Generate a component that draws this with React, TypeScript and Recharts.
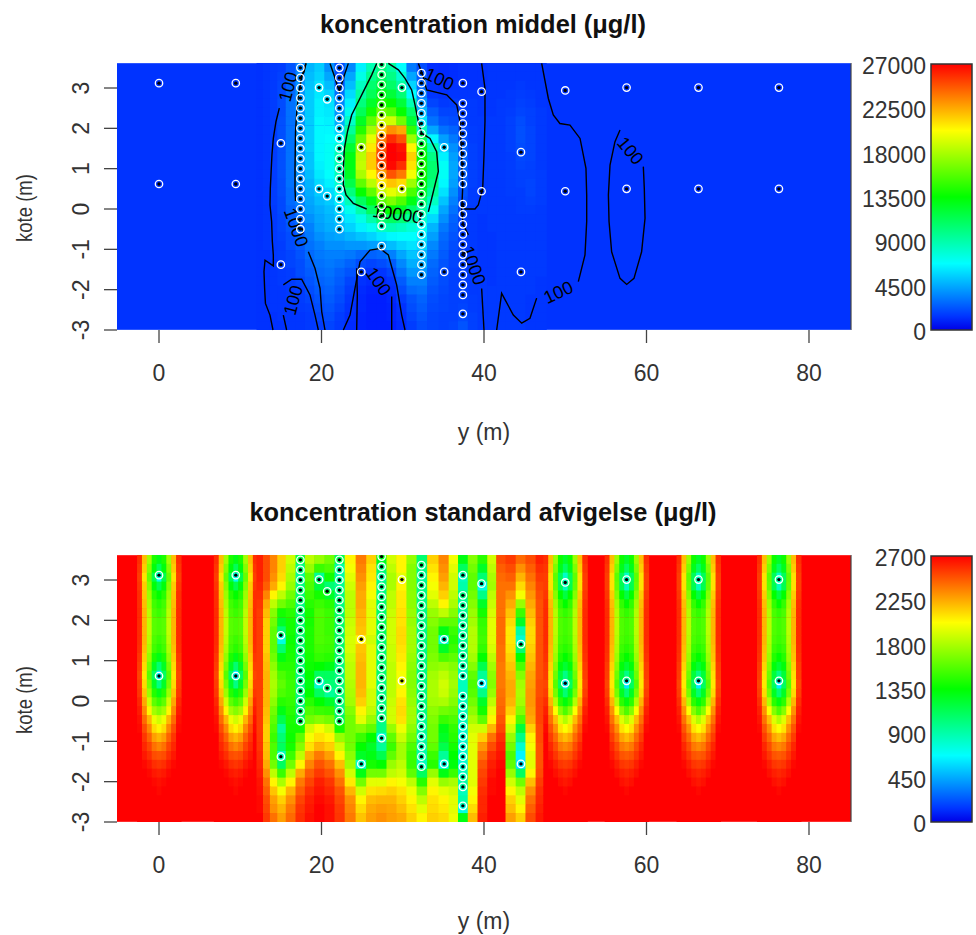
import { BarChart, Bar, XAxis, YAxis, ScatterChart, Scatter, ReferenceArea, ReferenceLine } from "recharts"

const X_DOMAIN = [-5.17, 85.17]
const Y_DOMAIN = [-3, 3.62]
const xTicks = [0, 20, 40, 60, 80]
const yTicks = [-3, -2, -1, 0, 1, 2, 3]
const meanLegendTicks = [0, 4500, 9000, 13500, 18000, 22500, 27000]
const stdLegendTicks = [0, 450, 900, 1350, 1800, 2250, 2700]

const rowYs = [3.51, 3.29, 3.07, 2.85, 2.63, 2.41, 2.19, 1.96, 1.74, 1.52, 1.3, 1.08, 0.86, 0.64, 0.42, 0.2, -0.02, -0.24, -0.46, -0.68, -0.9, -1.13, -1.35, -1.57, -1.79, -2.01, -2.23, -2.45, -2.67, -2.89]
const middleXs = [12.4, 13.2, 14.1, 15, 16.2, 17.4, 18.5, 19.7, 21, 22.2, 23.5, 24.9, 26.1, 27.4, 28.6, 29.8, 31.1, 32.3, 33.7, 35.1, 36.2, 37.4, 38.6, 39.8, 41, 42, 43.3, 44.5, 45.7, 47]

// mean concentration, in hundreds of ug/l
const meanRows = [
  [13,14,15,16,22,34,48,54,38,20,36,64,88,102,92,68,32,20,12,11,12,13,13,13,14,14,14,14,14,14],
  [13,14,15,17,24,36,50,56,44,20,44,74,98,110,100,80,44,24,12,11,12,13,13,13,14,14,14,14,14,14],
  [13,14,15,18,26,38,52,60,50,22,50,84,106,118,108,92,56,28,13,12,13,13,13,13,14,14,14,15,14,14],
  [13,14,16,19,28,40,54,62,56,30,58,92,112,128,120,104,68,32,14,13,14,14,14,14,14,14,15,16,15,14],
  [13,14,16,20,30,40,54,64,60,36,64,102,124,142,136,120,88,40,18,15,16,15,15,14,14,15,15,17,16,14],
  [13,14,16,20,30,40,54,64,62,40,72,112,140,164,158,136,108,48,24,18,18,16,15,14,14,15,16,18,17,15],
  [13,14,16,21,30,40,54,66,64,46,82,126,160,190,190,165,122,60,30,22,20,17,15,15,15,15,17,20,17,15],
  [13,14,16,21,30,40,54,66,66,56,94,144,178,216,232,225,148,86,44,30,26,19,16,15,15,15,17,21,18,15],
  [13,14,16,21,30,40,54,66,68,68,108,162,196,238,258,248,176,110,66,42,32,21,16,15,15,15,17,21,18,15],
  [13,14,16,21,30,40,54,66,70,80,122,178,208,248,270,265,205,128,88,56,38,24,17,15,15,15,17,20,18,15],
  [13,14,16,21,30,40,52,66,70,88,130,184,216,252,270,268,215,136,100,64,42,26,17,15,15,15,16,19,18,15],
  [13,14,16,21,30,40,52,64,70,88,130,186,216,245,268,258,210,140,106,70,44,26,17,15,15,15,16,18,17,15],
  [13,14,16,21,30,38,50,62,68,86,126,180,204,228,248,238,200,138,106,70,44,25,17,15,15,15,16,17,17,16],
  [13,14,16,20,30,38,48,58,64,80,116,160,184,208,218,212,176,132,102,66,42,24,17,15,15,15,16,17,18,16],
  [13,14,16,20,28,36,46,54,58,72,102,136,160,188,196,188,154,122,94,60,38,22,16,15,15,15,16,16,18,16],
  [13,14,16,19,28,34,44,50,54,64,86,110,130,158,168,156,130,106,84,52,34,20,16,15,15,15,15,16,17,16],
  [13,14,15,19,26,32,42,46,50,58,72,90,110,130,136,126,108,92,72,44,30,18,15,15,15,15,15,16,16,15],
  [13,14,15,18,24,30,38,44,48,54,62,74,90,106,110,104,92,80,58,38,26,17,15,14,15,15,15,15,15,15],
  [13,14,15,18,22,28,34,42,46,50,56,64,72,84,88,84,78,70,48,32,24,16,15,14,15,15,15,15,15,15],
  [13,14,15,17,20,26,32,38,42,44,48,52,56,62,66,68,68,62,42,28,22,16,15,14,14,15,15,15,15,15],
  [13,14,15,16,20,24,30,34,38,38,40,40,42,44,50,56,60,56,36,26,20,16,15,14,14,15,15,15,15,15],
  [13,13,15,16,18,22,28,32,34,34,32,28,26,28,34,44,52,50,32,24,18,16,15,14,14,15,15,15,15,15],
  [13,13,14,16,18,20,26,30,32,30,26,20,18,20,24,36,46,46,28,22,18,16,15,14,14,15,15,15,15,15],
  [13,13,14,15,16,20,24,28,30,26,22,16,14,14,18,30,40,40,26,20,17,16,15,14,14,15,15,15,15,15],
  [13,13,14,15,16,18,22,26,28,24,18,13,11,11,14,24,34,34,24,20,17,16,15,15,14,15,15,15,15,14],
  [13,13,14,14,15,16,20,24,26,22,16,11,9,9,12,20,28,30,22,19,17,17,15,15,15,15,15,15,15,14],
  [13,13,14,14,15,16,18,22,24,20,14,10,8,8,10,16,22,26,20,18,17,17,16,15,15,15,15,15,14,14],
  [13,13,14,14,14,15,16,20,22,18,13,10,8,8,9,13,20,24,19,18,17,18,16,15,15,15,15,15,14,14],
  [13,13,13,14,14,14,15,18,20,16,12,9,8,8,9,12,18,22,18,17,17,19,17,15,15,15,15,15,14,14],
  [13,13,13,13,14,14,15,16,18,15,11,9,8,8,8,11,16,20,18,17,18,22,17,15,15,15,15,15,14,14],
]

// standard deviation, in tens of ug/l
const stdMiddleRows = [
  [262,250,235,215,190,115,185,175,165,110,205,238,215,125,190,205,175,105,215,235,200,130,170,145,190,250,255,242,250,262],
  [262,250,235,215,185,100,175,150,155,90,200,235,210,105,185,205,170,100,210,232,195,110,165,125,185,245,250,232,245,258],
  [262,250,232,212,180,95,160,95,140,90,195,232,208,95,180,195,170,95,205,228,190,85,160,105,180,242,245,222,240,255],
  [260,245,225,205,175,100,155,120,105,95,190,228,205,100,180,205,170,100,200,222,190,90,160,75,178,240,240,212,235,252],
  [258,235,205,185,165,105,150,140,125,100,185,225,200,100,185,208,172,100,195,215,185,100,165,100,185,240,232,200,230,250],
  [256,225,185,165,155,100,145,150,145,100,185,225,195,105,185,208,172,100,185,205,180,95,170,125,188,240,225,175,225,248],
  [254,220,170,140,145,105,140,155,150,105,185,222,195,105,188,210,175,100,175,185,170,95,175,140,192,240,218,150,220,248],
  [254,215,165,125,140,105,140,155,150,105,188,220,195,110,190,210,175,100,170,160,160,95,178,148,195,242,212,125,215,248],
  [254,215,160,105,140,105,142,155,150,105,190,218,195,110,190,212,178,100,165,130,150,95,182,150,195,242,208,90,212,248],
  [254,215,160,75,138,105,142,155,152,105,192,205,190,105,190,212,178,100,165,80,145,95,182,152,195,242,208,80,212,248],
  [254,215,160,105,140,105,142,152,150,105,192,218,195,105,188,210,178,100,165,125,150,95,182,148,192,240,210,105,215,248],
  [254,218,165,130,142,105,140,148,145,105,188,220,195,105,188,208,175,100,168,155,160,95,178,135,185,240,214,135,218,248],
  [254,220,172,145,145,105,138,135,130,100,185,222,195,105,185,205,172,100,172,175,170,90,170,115,178,238,218,155,222,248],
  [254,222,178,155,148,100,135,110,110,100,185,222,195,105,185,200,170,100,178,185,175,85,160,95,172,238,222,170,226,248],
  [254,222,180,160,150,100,130,80,105,100,182,222,195,100,185,198,170,100,180,190,178,85,155,65,170,238,225,178,228,250],
  [254,222,178,155,150,100,135,110,95,100,180,220,190,100,185,205,172,100,180,188,175,85,158,100,175,240,225,180,230,250],
  [254,222,172,145,148,100,145,135,125,100,178,215,190,100,188,210,175,100,178,180,170,85,165,125,185,242,222,178,230,252],
  [254,220,165,130,145,105,155,150,148,100,170,205,185,100,190,212,178,100,172,165,162,85,172,140,195,244,215,170,228,252],
  [254,218,160,115,142,110,165,170,165,110,165,195,175,100,190,210,178,95,168,150,155,85,180,160,205,248,205,155,225,252],
  [254,215,155,95,140,140,190,200,190,140,165,170,160,100,175,198,172,95,165,130,148,80,190,190,222,252,190,120,215,250],
  [255,215,150,105,138,160,200,210,205,175,165,150,135,80,160,188,165,90,165,125,145,80,195,215,240,258,175,100,205,250],
  [256,218,155,110,140,170,210,222,215,190,165,135,125,95,150,178,155,90,160,115,140,80,195,230,250,262,165,80,200,248],
  [258,220,155,85,150,185,225,238,228,205,172,125,130,115,160,178,150,90,150,95,135,80,195,240,258,265,155,65,195,248],
  [260,225,165,110,165,205,235,248,240,220,178,80,140,135,175,185,150,85,145,75,132,80,195,248,262,268,160,60,195,248],
  [262,232,185,150,185,225,245,255,248,232,190,130,165,165,185,190,160,110,175,130,150,85,195,252,265,270,175,110,205,250],
  [265,240,205,180,205,238,252,262,256,240,208,165,195,195,205,200,185,145,195,175,180,90,195,255,268,270,190,165,220,254],
  [266,245,218,200,222,245,258,265,260,248,222,190,210,212,215,210,198,170,205,195,190,85,200,258,268,270,205,185,232,258],
  [268,250,228,215,232,252,262,268,264,252,232,205,220,222,222,215,205,185,210,205,195,90,205,260,270,270,215,195,240,260],
  [268,252,232,222,238,256,264,270,266,255,235,212,225,228,226,220,210,195,212,208,195,75,212,260,270,270,220,205,245,262],
  [270,255,240,228,242,258,266,270,266,256,238,218,228,232,228,225,215,205,215,212,198,130,220,262,270,270,228,215,250,264],
]

// the narrow stripes left of 12 m share one profile, the ones right of 48 m another
const stdStripeLeftRows = [
  [258,220,178,142,130,142,178,220,258],
  [256,216,170,132,112,132,170,216,256],
  [254,210,162,115,72,115,162,210,254],
  [256,216,170,132,115,132,170,216,256],
  [258,218,176,145,135,145,176,218,258],
  [258,220,180,152,145,152,180,220,258],
  [259,222,184,155,150,155,184,222,259],
  [259,222,186,158,155,158,186,222,259],
  [259,222,186,158,155,158,186,222,259],
  [259,222,184,155,150,155,184,222,259],
  [258,220,180,152,145,152,180,220,258],
  [256,216,174,142,130,142,174,216,256],
  [254,212,166,126,105,126,166,212,254],
  [252,208,158,110,62,110,158,208,252],
  [254,212,166,125,100,125,166,212,254],
  [256,218,176,144,130,144,176,218,256],
  [260,226,190,160,150,160,190,226,260],
  [263,234,205,178,170,178,205,234,263],
  [266,242,222,198,190,198,222,242,266],
  [268,250,234,212,205,212,234,250,268],
  [270,256,244,228,222,228,244,256,270],
  [270,260,252,240,235,240,252,260,270],
  [270,264,258,250,248,250,258,264,270],
  [270,268,264,258,256,258,264,268,270],
  [270,270,268,264,262,264,268,270,270],
  [270,270,270,268,266,268,270,270,270],
  [270,270,270,270,268,270,270,270,270],
  [270,270,270,270,270,270,270,270,270],
  [270,270,270,270,270,270,270,270,270],
  [270,270,270,270,270,270,270,270,270],
]
const stdStripeRightRows = [
  [258,220,176,138,125,138,176,220,258],
  [256,216,168,128,110,128,168,216,256],
  [254,210,160,112,82,112,160,210,254],
  [254,210,162,114,85,114,162,210,254],
  [256,216,170,135,118,135,170,216,256],
  [258,220,178,148,135,148,178,220,258],
  [259,222,182,154,148,154,182,222,259],
  [259,222,184,156,152,156,184,222,259],
  [259,222,184,156,152,156,184,222,259],
  [259,222,182,154,150,154,182,222,259],
  [258,220,180,150,145,150,180,220,258],
  [257,218,176,144,135,144,176,218,257],
  [255,214,170,132,122,132,170,214,255],
  [254,210,164,120,100,120,164,210,254],
  [252,208,158,110,62,110,158,208,252],
  [254,212,166,126,105,126,166,212,254],
  [258,222,182,146,132,146,182,222,258],
  [262,232,202,170,155,170,202,232,262],
  [265,240,220,194,182,194,220,240,265],
  [268,248,232,210,202,210,232,248,268],
  [270,254,242,226,220,226,242,254,270],
  [270,260,250,238,234,238,250,260,270],
  [270,264,256,248,246,248,256,264,270],
  [270,268,262,256,254,256,262,268,270],
  [270,270,266,262,260,262,266,270,270],
  [270,270,270,266,264,266,270,270,270],
  [270,270,270,270,268,270,270,270,270],
  [270,270,270,270,270,270,270,270,270],
  [270,270,270,270,270,270,270,270,270],
  [270,270,270,270,270,270,270,270,270],
]

const grid25 = [3.5, 3.25, 3, 2.75, 2.5, 2.25, 2, 1.75, 1.5, 1.25, 1, 0.75, 0.5, 0.25, 0, -0.25, -0.5]
const sampleColumns = [
  { x: 0, ys: [3.12, 0.62] },
  { x: 9.45, ys: [3.12, 0.62] },
  { x: 15, ys: [1.63, -1.38] },
  { x: 17.4, ys: grid25 },
  { x: 19.7, ys: [3.01, 0.5] },
  { x: 20.7, ys: [2.72, 0.32] },
  { x: 22.2, ys: grid25 },
  { x: 24.9, ys: [1.53, -1.56] },
  { x: 27.4, ys: [3.58, 3.33, 3.08, 2.83, 2.58, 2.33, 2.08, 1.83, 1.58, 1.33, 1.08, 0.83, 0.58, 0.33, 0.08, -0.17, -0.42, -0.92] },
  { x: 29.9, ys: [3.01, 0.5] },
  { x: 32.3, ys: [3.37, 3.12, 2.87, 2.62, 2.37, 2.12, 1.87, 1.62, 1.37, 1.12, 0.87, 0.62, 0.37, 0.12, -0.13, -0.38, -0.63, -0.88, -1.13, -1.38, -1.63] },
  { x: 35.1, ys: [1.53, -1.56] },
  { x: 37.4, ys: [3.12, 2.62, 2.37, 2.12, 1.87, 1.62, 1.37, 1.12, 0.87, 0.62, 0.12, -0.13, -0.38, -0.63, -0.88, -1.13, -1.38, -1.63, -1.88, -2.13, -2.6] },
  { x: 39.7, ys: [2.91, 0.44] },
  { x: 44.55, ys: [1.41, -1.56] },
  { x: 50, ys: [2.94, 0.44] },
  { x: 57.55, ys: [3.01, 0.5] },
  { x: 66.4, ys: [3.01, 0.5] },
  { x: 76.3, ys: [3.01, 0.5] },
]

const contourLines = [
  [[18.09,3.61],[17.85,3.4],[17.35,3.24]],
  [[14.81,2.5],[14.4,2.17],[14.07,1.75],[13.9,1.34],[13.8,0.93],[13.7,0.51],[13.66,0.1],[13.86,-0.31],[13.95,-0.81],[14.07,-1.14],[14.07,-1.41],[13.05,-1.27],[12.92,-1.55],[13,-1.97],[13.1,-2.34],[13.66,-2.63],[14.03,-3]],
  [[18.09,3.61],[17.6,3.3],[17.2,2.9],[16.95,2.4],[16.8,1.9],[16.74,1],[16.74,0.5],[16.8,0.2]],
  [[18.38,-1.06],[19.2,-1.47],[19.82,-1.97],[20.03,-2.55],[20.43,-3]],
  [[15.3,-1.88],[16.33,-1.74],[17.56,-1.74],[18.58,-2.13],[19.2,-2.63],[19.61,-3]],
  [[15.3,-2.63],[15.71,-3]],
  [[21.05,3.61],[21.54,3.32],[22.2,2.91],[22.69,3.24],[23.3,3.61]],
  [[26.79,3.61],[26.17,3.32],[25.35,2.99],[24.53,2.66],[23.71,2.33],[23.2,1.92],[22.81,1.5],[22.69,1.01],[22.69,0.6],[23.02,0.35],[23.92,0.14],[25.56,0]],
  [[33.15,-0.07],[33.56,0.26],[34.38,0.93],[34.17,1.42],[33.35,1.75],[32.33,1.88],[31.92,2.17],[31.51,2.58],[31.1,2.95],[30.28,3.24],[29.46,3.45],[28.23,3.61]],
  [[31.92,3.61],[32.5,3.3],[32.94,2.95],[35.41,2.83],[36.64,2.58],[37.05,2.17],[37.25,1.34],[37.37,0.51],[37.25,-0.07],[37.46,-0.4],[38.07,-0.64]],
  [[39.71,-1.97],[40,-3]],
  [[22.69,-3],[23.51,-2.63],[24.12,-1.97],[24.74,-1.31],[25.97,-1.02],[27.2,-0.98],[28.23,-1.14],[29.25,-1.88],[29.87,-2.63],[30.28,-3]],
  [[24.33,-1.47],[24.41,-2.13],[24.33,-3]],
  [[28.64,-2.17],[28.64,-3]],
  [[39.71,3.61],[40.12,2.99],[40.12,2.17],[40,1.34],[39.84,0.51],[39.3,0.1],[38.89,0],[37.66,0],[37.3,0.1]],
  [[41.56,-3],[42.17,-2.09],[43.61,-2.63],[44.64,-2.83],[45.66,-2.71],[46.48,-2.21]],
  [[51.61,-1.8],[52.43,-1.14],[52.64,-0.31],[52.64,0.35],[52.55,1.01],[51.82,1.75],[50.58,2.08],[49.34,2.12],[48.53,2.33],[47.92,2.74],[47.1,3.61]],
  [[56.74,1.96],[56.12,1.67],[55.51,1.09],[55.31,0.35],[55.39,-0.31],[55.71,-1.06],[56.74,-1.72],[57.56,-1.87],[58.46,-1.72],[59.4,-1.06],[59.82,-0.23],[59.73,0.51],[59.61,1.05]],
]

const contourLabels = [
  { x: 15.92, y: 3.03, text: "100", angle: -75 },
  { x: 16.86, y: -0.46, text: "1000", angle: 70 },
  { x: 16.53, y: -2.26, text: "100", angle: -75 },
  { x: 29.33, y: -0.13, text: "10000", angle: 8 },
  { x: 34.5, y: 3.22, text: "100", angle: 25 },
  { x: 38.69, y: -1.4, text: "1000", angle: 70 },
  { x: 27, y: -1.8, text: "100", angle: 55 },
  { x: 49.15, y: -2.07, text: "100", angle: -25 },
  { x: 58, y: 1.44, text: "100", angle: 50 },
]

const CHART_W = 976
const CHART_H = 470
const PLOT_LEFT = 117
const PLOT_RIGHT = 851
const PLOT_TOP = 63
const PLOT_BOTTOM = 330
const PX_PER_M = (PLOT_RIGHT - PLOT_LEFT) / (X_DOMAIN[1] - X_DOMAIN[0])
const ROW_PX = (PLOT_BOTTOM - PLOT_TOP) / rowYs.length
const FONT = "'Liberation Sans', Arial, sans-serif"
const INK = "#333"

// blue, cyan, green, yellow, red over 0..270
function rampColor(v: number) {
  const t = Math.max(0, Math.min(1, v / 270)) * 4
  const k = t - Math.floor(t)
  const u = Math.round(k * 255)
  if (t < 1) return `rgb(0,${u},255)`
  if (t < 2) return `rgb(0,255,${255 - u})`
  if (t < 3) return `rgb(${u},255,0)`
  if (t < 4) return `rgb(255,${255 - u},0)`
  return "rgb(255,0,0)"
}

function buildCells(xs: number[], rows: number[][]) {
  return rows.flatMap((row, r) =>
    row.map((v, c) => {
      const prev = c > 0 ? xs[c] - xs[c - 1] : xs[c + 1] - xs[c]
      const next = c < xs.length - 1 ? xs[c + 1] - xs[c] : xs[c] - xs[c - 1]
      return { x: xs[c], y: rowYs[r], v, left: prev / 2, right: next / 2 }
    })
  )
}

const meanCells = buildCells(middleXs, meanRows)
const stdCells = [
  ...buildCells([-2.4, -1.8, -1.2, -0.6, 0, 0.6, 1.2, 1.8, 2.4], stdStripeLeftRows),
  ...buildCells([7.05, 7.65, 8.25, 8.85, 9.45, 10.05, 10.65, 11.25, 11.85], stdStripeLeftRows),
  ...buildCells(middleXs, stdMiddleRows),
  ...buildCells([47.6, 48.2, 48.8, 49.4, 50, 50.6, 51.2, 51.8, 52.4], stdStripeRightRows),
  ...buildCells([55.15, 55.75, 56.35, 56.95, 57.55, 58.15, 58.75, 59.35, 59.95], stdStripeRightRows),
  ...buildCells([64, 64.6, 65.2, 65.8, 66.4, 67, 67.6, 68.2, 68.8], stdStripeRightRows),
  ...buildCells([73.9, 74.5, 75.1, 75.7, 76.3, 76.9, 77.5, 78.1, 78.7], stdStripeRightRows),
]
const samplePoints = sampleColumns.flatMap((col) => col.ys.map((y) => ({ x: col.x, y })))

function CellShape(props: any) {
  const { cx, cy, payload } = props
  const top = cy - ROW_PX / 2
  return (
    <rect
      x={cx - payload.left * PX_PER_M}
      y={top}
      width={(payload.left + payload.right) * PX_PER_M + 0.6}
      height={Math.min(ROW_PX + 0.6, PLOT_BOTTOM - top)}
      fill={rampColor(payload.v)}
    />
  )
}

function SampleShape(props: any) {
  return (
    <g>
      <circle cx={props.cx} cy={props.cy} r={3.7} fill="none" stroke="#fff" strokeWidth={1.3} />
      <circle cx={props.cx} cy={props.cy} r={1.7} fill="#000" />
    </g>
  )
}

function ContourLabelShape(props: any) {
  const { cx, cy, payload } = props
  return (
    <text
      x={cx}
      y={cy}
      dy={6}
      textAnchor="middle"
      fontFamily={FONT}
      fontSize={18}
      fill="#000"
      transform={`rotate(${payload.angle} ${cx} ${cy})`}
    >
      {payload.text}
    </text>
  )
}

function XTick(props: any) {
  return (
    <text x={props.x} y={381} textAnchor="middle" fontFamily={FONT} fontSize={23} fill={INK}>
      {props.payload.value}
    </text>
  )
}

function YTick(props: any) {
  return (
    <text x={89} y={props.y} textAnchor="middle" fontFamily={FONT} fontSize={23} fill={INK} transform={`rotate(-90 89 ${props.y})`}>
      {props.payload.value}
    </text>
  )
}

function LegendTick(props: any) {
  return (
    <text x={926} y={props.y} dy={10} textAnchor="end" fontFamily={FONT} fontSize={23} fill={INK}>
      {props.payload.value}
    </text>
  )
}

function HeatPanel({ cells, background, withContours }: { cells: any[]; background: string; withContours: boolean }) {
  return (
    <ScatterChart
      width={CHART_W}
      height={CHART_H}
      margin={{ top: PLOT_TOP, right: CHART_W - PLOT_RIGHT, bottom: 0, left: 0 }}
      style={{ position: "absolute", left: 0, top: 0 }}
    >
      <XAxis
        type="number"
        dataKey="x"
        domain={X_DOMAIN}
        ticks={xTicks}
        height={CHART_H - PLOT_BOTTOM}
        axisLine={false}
        tickSize={13}
        tickLine={{ stroke: "#444", strokeWidth: 1.3 }}
        tick={<XTick />}
      />
      <YAxis
        type="number"
        dataKey="y"
        domain={Y_DOMAIN}
        ticks={yTicks}
        width={PLOT_LEFT}
        axisLine={false}
        tickSize={13}
        tickLine={{ stroke: "#444", strokeWidth: 1.3 }}
        tick={<YTick />}
      />
      <ReferenceArea x1={X_DOMAIN[0]} x2={X_DOMAIN[1]} y1={Y_DOMAIN[0]} y2={Y_DOMAIN[1]} fill={background} fillOpacity={1} stroke="none" />
      <Scatter data={cells} shape={<CellShape />} isAnimationActive={false} />
      {withContours &&
        contourLines.map((line, i) => (
          <Scatter
            key={i}
            data={line.map(([x, y]) => ({ x, y }))}
            line={{ stroke: "#000", strokeWidth: 1.4 }}
            shape={() => <g />}
            isAnimationActive={false}
          />
        ))}
      {withContours && <Scatter data={contourLabels} shape={<ContourLabelShape />} isAnimationActive={false} />}
      <Scatter data={samplePoints} shape={<SampleShape />} isAnimationActive={false} />
      <ReferenceLine x={X_DOMAIN[1]} stroke="#444" strokeWidth={1.2} />
      <ReferenceLine y={Y_DOMAIN[0]} stroke="#fff" strokeOpacity={0.35} strokeWidth={1} />
      <ReferenceLine y={Y_DOMAIN[1]} stroke="#fff" strokeOpacity={0.35} strokeWidth={1} />
    </ScatterChart>
  )
}

function ColorBar({ id, max, ticks }: { id: string; max: number; ticks: number[] }) {
  return (
    <BarChart
      width={CHART_W}
      height={CHART_H}
      data={[{ name: "scale", level: max }]}
      margin={{ top: PLOT_TOP + 1, right: 4, bottom: CHART_H - PLOT_BOTTOM, left: 0 }}
      barCategoryGap={0}
      style={{ position: "absolute", left: 0, top: 0 }}
    >
      <defs>
        <linearGradient id={id} x1="0" y1="1" x2="0" y2="0">
          <stop offset="0%" stopColor="#0000e6" />
          <stop offset="5%" stopColor="#0033ff" />
          <stop offset="25%" stopColor="#00ffff" />
          <stop offset="50%" stopColor="#00ff00" />
          <stop offset="75%" stopColor="#ffff00" />
          <stop offset="100%" stopColor="#ff0000" />
        </linearGradient>
      </defs>
      <XAxis dataKey="name" hide />
      <YAxis type="number" domain={[0, max]} ticks={ticks} width={931} axisLine={false} tickLine={false} tick={<LegendTick />} />
      <Bar dataKey="level" fill={`url(#${id})`} stroke="#333" strokeWidth={1.5} isAnimationActive={false} />
    </BarChart>
  )
}

function Labels({ title, titleTop, xLabelTop }: { title: string; titleTop: number; xLabelTop: number }) {
  const base = { position: "absolute" as const, fontFamily: FONT, color: "#111", whiteSpace: "nowrap" as const }
  return (
    <>
      <div style={{ ...base, left: 0, width: 966, top: titleTop, lineHeight: "30px", textAlign: "center", fontSize: 25.4, fontWeight: 700 }}>{title}</div>
      <div style={{ ...base, left: 0, width: 968, top: xLabelTop, lineHeight: "20px", textAlign: "center", fontSize: 23, color: INK }}>y (m)</div>
      <div style={{ ...base, left: 25, top: 208, fontSize: 18.5, color: INK, transform: "translate(-50%,-50%) rotate(-90deg) scale(1,1.2)" }}>kote (m)</div>
    </>
  )
}

export default function App() {
  return (
    <div style={{ position: "absolute", left: 0, top: 0, width: CHART_W, height: 935, background: "#fff", overflow: "hidden" }}>
      <div style={{ position: "absolute", left: 0, top: 0, width: CHART_W, height: CHART_H }}>
        <HeatPanel cells={meanCells} background="#0033ff" withContours />
        <ColorBar id="rampMean" max={27000} ticks={meanLegendTicks} />
        <Labels title="koncentration middel (μg/l)" titleTop={9} xLabelTop={422} />
      </div>
      <div style={{ position: "absolute", left: 0, top: 492, width: CHART_W, height: CHART_H }}>
        <HeatPanel cells={stdCells} background="#ff0000" withContours={false} />
        <ColorBar id="rampStd" max={2700} ticks={stdLegendTicks} />
        <Labels title="koncentration standard afvigelse (μg/l)" titleTop={5} xLabelTop={419} />
      </div>
    </div>
  )
}
